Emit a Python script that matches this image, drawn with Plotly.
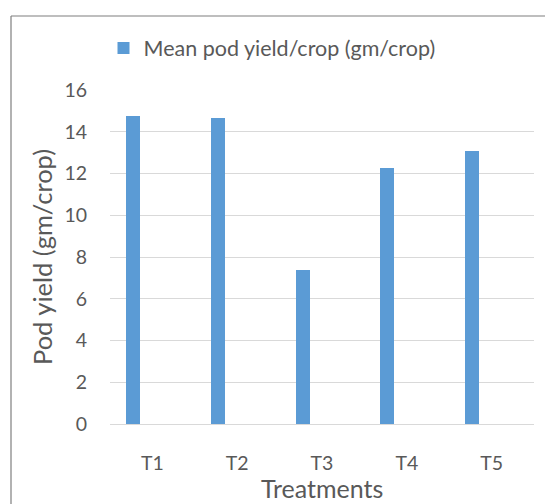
import plotly.graph_objects as go

categories = ["T1", "T2", "T3", "T4", "T5"]
mean_pod_yield = [14.76, 14.68, 7.40, 12.25, 13.06]
series_name = "Mean pod yield/crop (gm/crop)"
y_ticks = [0, 2, 4, 6, 8, 10, 12, 14, 16]

W, H = 545, 504
L, R, T, B = 110, 11, 90, 80
pw, ph = W - L - R, H - T - B

def px(x):
    return (x - L) / pw

def py(y):
    return (H - B - y) / ph

text_color = "#595959"
font_family = "Lato, 'Open Sans', sans-serif"

fig = go.Figure()
fig.add_trace(go.Bar(
    x=categories, y=mean_pod_yield, name=series_name,
    marker=dict(color="#5b9bd5", line=dict(width=0)),
    width=0.165, offset=-0.311, showlegend=True,
))

fig.update_layout(
    width=W, height=H,
    margin=dict(l=L, r=R, t=T, b=B, autoexpand=False),
    paper_bgcolor="white", plot_bgcolor="white",
    font=dict(family=font_family, color=text_color, size=19),
    showlegend=True,
    legend=dict(orientation="h", x=px(272), xanchor="center", y=py(48), yanchor="middle",
                font=dict(size=21.5, color=text_color), itemwidth=30,
                bgcolor="rgba(0,0,0,0)"),
    xaxis=dict(type="category", showgrid=False, showline=True, linecolor="#d9d9d9", linewidth=1,
               ticks="", tickfont=dict(size=19.5, color=text_color), ticklabelstandoff=22,
               range=[-0.5, 4.5], fixedrange=True, automargin=False),
    yaxis=dict(range=[0, 16], tickvals=y_ticks, showgrid=True, gridcolor="#d9d9d9", gridwidth=1,
               zeroline=False, showline=False, ticks="", tickfont=dict(size=19.5, color=text_color),
               ticklabelstandoff=22, fixedrange=True, automargin=False),
    bargap=0,
)

fig.add_annotation(text="Pod yield (gm/crop)", xref="paper", yref="paper", x=px(42), y=py(257),
                   textangle=-90, showarrow=False, font=dict(size=25.5, color=text_color),
                   xanchor="center", yanchor="middle")
fig.add_annotation(text="Treatments", xref="paper", yref="paper", x=px(322), y=py(488),
                   showarrow=False, font=dict(size=25, color=text_color),
                   xanchor="center", yanchor="middle")

# white strip at the far right (keeps the edge clean)
fig.add_shape(type="rect", xref="paper", yref="paper", x0=px(536), x1=px(548), y0=py(17.5), y1=py(506),
              fillcolor="white", line=dict(width=0), layer="above")

# chart border (left and top edges visible)
fig.add_shape(type="line", xref="paper", yref="paper", x0=px(11), x1=px(11), y0=py(16), y1=py(504),
              line=dict(color="#7f7f7f", width=1.2))
fig.add_shape(type="line", xref="paper", yref="paper", x0=px(11), x1=px(548), y0=py(16), y1=py(16),
              line=dict(color="#7f7f7f", width=1.2))

fig.write_html("out.html", config={"displayModeBar": False, "responsive": False},
               post_script="document.body.style.margin='0';document.body.style.overflow='hidden';document.documentElement.style.overflow='hidden';")
